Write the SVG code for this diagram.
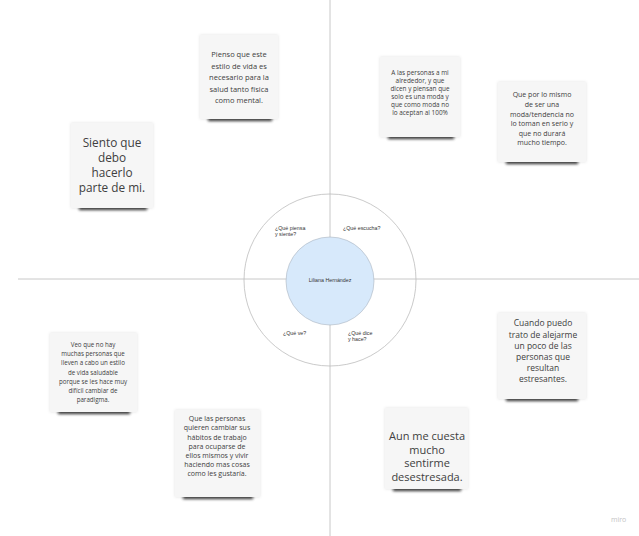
<svg xmlns="http://www.w3.org/2000/svg" width="639" height="536" viewBox="0 0 639 536">
<defs>
<filter id="blur" x="-20%" y="-200%" width="140%" height="500%"><feGaussianBlur stdDeviation="1.8"/></filter>
<filter id="soft" x="-20%" y="-20%" width="140%" height="140%"><feDropShadow dx="0" dy="0" stdDeviation="1.5" flood-color="#000" flood-opacity="0.12"/></filter>
</defs>
<style>
.note{fill:#f6f6f6;filter:url(#soft)}
.shadow{fill:#111;opacity:0.85;filter:url(#blur)}
.nt{font-family:"Open Sans","Liberation Sans",sans-serif;fill:#404040;text-anchor:middle}
.lbl{font-family:"Liberation Sans",Arial,sans-serif;font-size:5.3px;fill:#333}
.axis{stroke:#c8c8c8;stroke-width:1;fill:none}
</style>
<rect width="639" height="536" fill="#ffffff"/>
<g id="connectors">
<line class="axis" x1="330" y1="0" x2="330" y2="536"/>
<line class="axis" x1="18" y1="279" x2="639" y2="279"/>
</g>
<g id="outer-circle">
<circle cx="330" cy="280" r="86" fill="none" stroke="#bdbdbd" stroke-width="0.8"/>
<text class="lbl" x="275" y="230">¿Qué piensa</text>
<text class="lbl" x="275" y="236">y siente?</text>
<text class="lbl" x="343" y="230">¿Qué escucha?</text>
<text class="lbl" x="283" y="335">¿Qué ve?</text>
<text class="lbl" x="348" y="335">¿Qué dice</text>
<text class="lbl" x="348" y="341">y hace?</text>
</g>
<g id="center">
<circle cx="330" cy="281" r="44" fill="#d7e9fb" stroke="#a9b4bf" stroke-width="0.6"/>
<text class="lbl" x="330" y="282" text-anchor="middle">Liliana Hernández</text>
</g>
<g id="note1">
<rect class="shadow" x="208" y="117" width="64" height="4"/>
<rect class="note" x="200" y="35" width="78" height="84"/>
<text class="nt" font-size="7.5"><tspan x="239" y="57">Pienso que este</tspan><tspan x="239" y="68.5">estilo de vida es</tspan><tspan x="239" y="80">necesario para la</tspan><tspan x="239" y="91.5">salud tanto física</tspan><tspan x="239" y="103">como mental.</tspan></text>
</g>
<g id="note2">
<rect class="shadow" x="79" y="206" width="68" height="4"/>
<rect class="note" x="71" y="123" width="82" height="85"/>
<text class="nt" font-size="11.8"><tspan x="112" y="147">Siento que</tspan><tspan x="112" y="162">debo</tspan><tspan x="112" y="177">hacerlo</tspan><tspan x="112" y="192">parte de mi.</tspan></text>
</g>
<g id="note3">
<rect class="shadow" x="388" y="135" width="66" height="4"/>
<rect class="note" x="380" y="57" width="80" height="80"/>
<text class="nt" font-size="6.4"><tspan x="420" y="75">A las personas a mi</tspan><tspan x="420" y="83">alrededor, y que</tspan><tspan x="420" y="91">dicen y piensan que</tspan><tspan x="420" y="99">solo es una moda y</tspan><tspan x="420" y="106.5">que como moda no</tspan><tspan x="420" y="114.5">lo aceptan al 100%</tspan></text>
</g>
<g id="note4">
<rect class="shadow" x="506" y="160" width="72" height="4"/>
<rect class="note" x="498" y="82" width="88" height="80"/>
<text class="nt" font-size="7"><tspan x="542" y="97">Que por lo mismo</tspan><tspan x="542" y="107">de ser una</tspan><tspan x="542" y="117">moda/tendencia no</tspan><tspan x="542" y="126">lo toman en serio y</tspan><tspan x="542" y="135.5">que no durará</tspan><tspan x="542" y="145">mucho tiempo.</tspan></text>
</g>
<g id="note5">
<rect class="shadow" x="58" y="410" width="72" height="4"/>
<rect class="note" x="50" y="333" width="87" height="79"/>
<text class="nt" font-size="6.2"><tspan x="93" y="347">Veo que no hay</tspan><tspan x="93" y="356">muchas personas que</tspan><tspan x="93" y="365">lleven a cabo un estilo</tspan><tspan x="93" y="374.5">de vida saludable</tspan><tspan x="93" y="384">porque se les hace muy</tspan><tspan x="93" y="393">difícil cambiar de</tspan><tspan x="93" y="401.5">paradigma.</tspan></text>
</g>
<g id="note6">
<rect class="shadow" x="183" y="495" width="70" height="4"/>
<rect class="note" x="175" y="410" width="85" height="87"/>
<text class="nt" font-size="7"><tspan x="217" y="421">Que las personas</tspan><tspan x="217" y="430">quieren cambiar sus</tspan><tspan x="217" y="439.5">hábitos de trabajo</tspan><tspan x="217" y="449">para ocuparse de</tspan><tspan x="217" y="458">ellos mismos y vivir</tspan><tspan x="217" y="467">haciendo mas cosas</tspan><tspan x="217" y="476">como les gustaría.</tspan></text>
</g>
<g id="note7">
<rect class="shadow" x="506" y="397" width="72" height="4"/>
<rect class="note" x="498" y="313" width="88" height="86"/>
<text class="nt" font-size="8.5"><tspan x="543" y="326">Cuando puedo</tspan><tspan x="543" y="337.5">trato de alejarme</tspan><tspan x="543" y="349">un poco de las</tspan><tspan x="543" y="360">personas que</tspan><tspan x="543" y="370.5">resultan</tspan><tspan x="543" y="381.5">estresantes.</tspan></text>
</g>
<g id="note8">
<rect class="shadow" x="393" y="487" width="68" height="4"/>
<rect class="note" x="385" y="408" width="83" height="81"/>
<text class="nt" font-size="11"><tspan x="427" y="440">Aun me cuesta</tspan><tspan x="427" y="453.5">mucho</tspan><tspan x="427" y="467">sentirme</tspan><tspan x="427" y="480.5">desestresada.</tspan></text>
</g>
<text x="611" y="522" font-family="Open Sans, Liberation Sans, sans-serif" font-size="7" fill="#c4c4c4">miro</text>
</svg>
